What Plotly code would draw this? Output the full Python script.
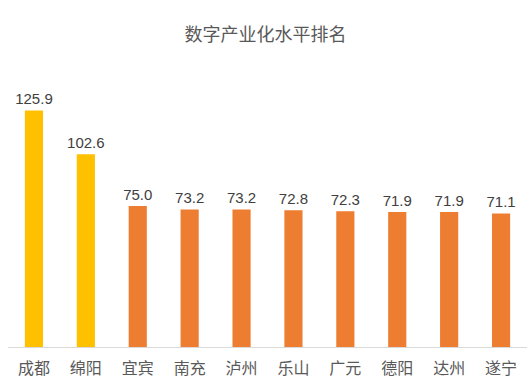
import plotly.graph_objects as go

cities = ["成都", "绵阳", "宜宾", "南充", "泸州", "乐山", "广元", "德阳", "达州", "遂宁"]
values = [125.9, 102.6, 75.0, 73.2, 73.2, 72.8, 72.3, 71.9, 71.9, 71.1]
colors = ["#FFC000", "#FFC000"] + ["#ED7D31"] * 8

fig = go.Figure(go.Bar(
    x=cities, y=values,
    marker=dict(color=colors, line=dict(width=0)),
    text=[f"{v:.1f}" for v in values],
    textposition="outside",
    textangle=0,
    constraintext="none",
    textfont=dict(size=15, color="#404040", family="Liberation Sans, Arial, sans-serif"),
    cliponaxis=False,
))

fig.update_layout(
    width=531, height=385,
    margin=dict(l=8, r=4, t=84, b=38, autoexpand=False),
    paper_bgcolor="white", plot_bgcolor="white",
    title=dict(text="数字产业化水平排名", x=0.5, xanchor="center", y=0.91, yanchor="middle",
               font=dict(size=18, color="#595959", family="Noto Sans CJK SC")),
    bargap=0.65,
    showlegend=False,
    font=dict(family="Noto Sans CJK SC"),
    uniformtext=dict(mode=False),
)
fig.update_xaxes(showline=True, linecolor="#D9D9D9", linewidth=1, automargin=False,
                 tickfont=dict(size=16, color="#595959", family="Noto Sans CJK SC"),
                 ticklabelstandoff=7,
                 ticks="", showgrid=False)
fig.update_yaxes(range=[0, 140], visible=False, showgrid=False, automargin=False)

fig.write_html("out.html", config={"displayModeBar": False},
               post_script="document.body.style.margin='0';document.body.style.overflow='hidden';")
